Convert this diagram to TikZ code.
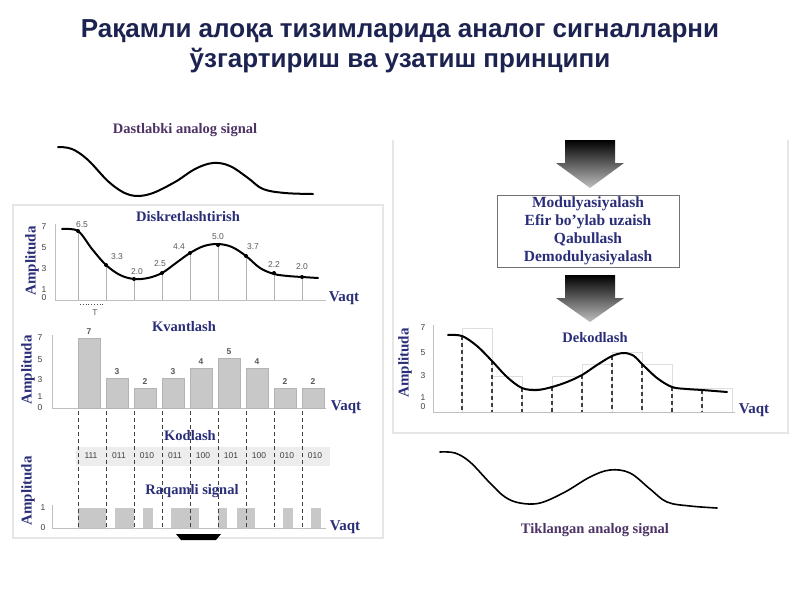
\documentclass[tikz,border=0pt]{standalone}
\usepackage{fontspec}
\setmainfont{Liberation Serif}
\newfontfamily\titlefont{Liberation Sans}
\newfontfamily\tickfont{Liberation Sans}
\definecolor{titlenavy}{HTML}{1C2350}
\definecolor{lblue}{HTML}{2A2E78}
\definecolor{purp}{HTML}{4E3466}
\definecolor{bargray}{HTML}{C8C8C8}
\definecolor{panelline}{HTML}{E6E6E6}
\tikzset{
  titletext/.style={font=\titlefont\bfseries\fontsize{26}{30}\selectfont, text=titlenavy, inner sep=0},
  lbl/.style={font=\bfseries\fontsize{14.5}{16}\selectfont, text=lblue, inner sep=0},
  plbl/.style={font=\bfseries\fontsize{14.5}{16}\selectfont, text=purp, inner sep=0},
  boxtext/.style={font=\bfseries\fontsize{15.5}{18}\selectfont, text=lblue, inner sep=0, align=center},
  ampl/.style={font=\bfseries\fontsize{15}{16}\selectfont, text=lblue, inner sep=0, rotate=90},
  vaqt/.style={font=\bfseries\fontsize{15}{16}\selectfont, text=lblue, inner sep=0},
  tick/.style={font=\tickfont\fontsize{8.5}{9}\selectfont, text=black!75, inner sep=0},
  val/.style={font=\tickfont\fontsize{8.5}{9}\selectfont, text=black!65, inner sep=0},
  axisline/.style={draw=black!25, line width=0.8pt},
  signal/.style={draw=black, line width=2pt, line cap=round},
  thinsig/.style={draw=black, line width=1.6pt, line cap=round},
  panel/.style={draw=panelline, line width=1.5pt},
  cut/.style={draw=black!75, line width=1pt, dash pattern=on 4pt off 3pt},
  bar/.style={fill=bargray, draw=bargray!90!black, line width=0.3pt},
  faintbar/.style={draw=black!13, line width=0.8pt},
  sample/.style={circle, fill=black, inner sep=0, minimum size=4pt},
  downarrow/.style={top color=black, bottom color=black!25, draw=none},
}
\begin{document}
\begin{tikzpicture}[x=1pt,y=-1pt]
\useasboundingbox (0,0) rectangle (800,600);
\fill[white] (0,0) rectangle (800,600);

% ---- title
\node[titletext, anchor=base] (t1) at (400,37) {Рақамли алоқа тизимларида аналог сигналларни};
\node[titletext, anchor=base] (t2) at (400,67) {ўзгартириш ва узатиш принципи};

% ---- panels
\draw[panel] (13,205) rectangle (383,538);
\draw[panel] (393,140) -- (393,433) -- (788,433) -- (788,140);

% ---- original analog signal
\node[plbl] (orig) at (185,130) {Dastlabki analog signal};
\draw[signal] plot[smooth, tension=0.6] coordinates {(58,147) (72,149) (88,160) (110,183) (130,195) (150,194) (175,182) (195,169) (213,163) (230,166) (248,178) (263,189) (285,193) (313,194)};

% ---- Diskretlashtirish
\node[lbl] (disk) at (188,217) {Diskretlashtirish};
\node[ampl] (a1) at (32,261) {Amplituda};
\node[tick] (d7) at (44,227) {7};
\node[tick] (d5) at (44,248) {5};
\node[tick] (d3) at (44,269) {3};
\node[tick] (d1) at (44,290) {1};
\node[tick] (d0) at (44,298) {0};
\draw[axisline] (55,224) -- (55,300) -- (326,300);
\node[vaqt] (v1) at (344,298) {Vaqt};
\foreach \x/\y/\n in {78/231/s1,106/265/s2,134/279/s3,162/273/s4,190/253/s5,218/245/s6,246/256/s7,274/273/s8,302/277/s9}{
  \draw[black!30, line width=0.6pt] (\x,\y) -- (\x,300);
}
\draw[signal] plot[smooth, tension=0.55] coordinates {(62,229) (78,231) (92,249) (106,265) (120,275) (134,279) (148,278) (162,273) (176,263) (190,253) (204,246) (218,244) (232,247) (246,256) (260,268) (274,274) (288,276) (302,277) (318,278)};
\foreach \x/\y/\n in {78/231/s1,106/265/s2,134/279/s3,162/273/s4,190/253/s5,218/245/s6,246/256/s7,274/273/s8,302/277/s9}{
  \node[sample] (\n) at (\x,\y) {};
}
\node[val] (l1) at (82,225) {6.5};
\node[val] (l2) at (117,257) {3.3};
\node[val] (l3) at (137,272) {2.0};
\node[val] (l4) at (160,264) {2.5};
\node[val] (l5) at (179,247) {4.4};
\node[val] (l6) at (218,237) {5.0};
\node[val] (l7) at (253,247) {3.7};
\node[val] (l8) at (274,265) {2.2};
\node[val] (l9) at (302,267) {2.0};
\coordinate (ta) at (80,304);
\coordinate (tb) at (104,304);
\draw[black!70, line width=0.8pt, dotted] (ta) -- (tb);
\node[val] (tlbl) at (95,313) {T};

% ---- Kvantlash
\node[lbl] (kv) at (184,327) {Kvantlash};
\node[ampl] (a2) at (28,370) {Amplituda};
\node[tick] (k7) at (40,338) {7};
\node[tick] (k5) at (40,360) {5};
\node[tick] (k3) at (40,380) {3};
\node[tick] (k1) at (40,397) {1};
\node[tick] (k0) at (40,408) {0};
\draw[axisline] (52,335) -- (52,408) -- (326,408);
\node[vaqt] (v2) at (346,407) {Vaqt};
\foreach \x/\v/\n in {78/7/q1,106/3/q2,134/2/q3,162/3/q4,190/4/q5,218/5/q6,246/4/q7,274/2/q8,302/2/q9}{
  \draw[bar] (\x,408) rectangle ({\x+22},{408-10*\v});
  \node[val, font=\tickfont\bfseries\fontsize{8.5}{9}\selectfont] (\n) at ({\x+11},{408-10*\v-6}) {\v};
}

% ---- Kodlash and Raqamli signal
\fill[black!7] (76,447) rectangle (330,466);
\foreach \a/\b in {78/106.3, 115.3/134, 143.3/152.7, 171.3/199.3, 218/227.3, 236.7/255.3, 283.3/292.7, 311.3/320.7}{
  \fill[bargray] (\a,508) rectangle (\b,528);
}
\draw[axisline] (52,505) -- (52,528) -- (326,528);
\foreach \x in {78,106,134,162,190,218,246,274,302}{
  \draw[cut] (\x,411) -- (\x,530);
}
\node[lbl] (kod) at (190,436) {Kodlash};
\foreach \x/\c/\n in {78/111/c1,106/011/c2,134/010/c3,162/011/c4,190/100/c5,218/101/c6,246/100/c7,274/010/c8,302/010/c9}{
  \node[val, text=black!75, fill=black!7, inner sep=1pt] (\n) at ({\x+13},456) {\c};
}
\node[lbl] (raq) at (192,491) {Raqamli signal};
\node[ampl] (a3) at (28,491) {Amplituda};
\node[tick] (r1) at (43,508) {1};
\node[tick] (r0) at (43,528) {0};
\node[vaqt] (v3) at (345,527) {Vaqt};
\fill[black] (176,534) -- (221,534) -- (216,540) -- (181,540) -- cycle;

% ---- right: arrows and process box
\shade[downarrow] (565,140) -- (615,140) -- (615,163) -- (624,163) -- (590,188) -- (556,163) -- (565,163) -- cycle;
\node[boxtext, draw=black!55, line width=0.8pt, fill=white, minimum width=182pt, minimum height=72pt] (proc) at (588,231) {Modulyasiyalash\\Efir bo'ylab uzaish\\Qabullash\\Demodulyasiyalash};
\shade[downarrow] (565,275) -- (615,275) -- (615,298) -- (624,298) -- (590,322) -- (556,298) -- (565,298) -- cycle;

% ---- Dekodlash
\node[lbl] (dek) at (595,338) {Dekodlash};
\node[ampl] (a4) at (405,363) {Amplituda};
\node[tick] (e7) at (423,328) {7};
\node[tick] (e5) at (423,353) {5};
\node[tick] (e3) at (423,376) {3};
\node[tick] (e1) at (423,398) {1};
\node[tick] (e0) at (423,407) {0};
\foreach \x/\v in {462/7,492/3,522/2,552/3,582/4,612/5,642/4,672/2,702/2}{
  \draw[faintbar] (\x,412) rectangle ({\x+30},{412-12*\v});
}
\draw[axisline] (433,325) -- (433,412) -- (735,412);
\node[vaqt] (v4) at (754,410) {Vaqt};
\foreach \x/\y in {462/336,492/361,522/388,552/387,582/375,612/356,642/364,672/387,702/390}{
  \draw[cut, line width=1.1pt] (\x,\y) -- (\x,412);
}
\draw[signal] plot[smooth, tension=0.55] coordinates {(448,335) (462,336) (477,346) (492,361) (507,377) (522,388) (537,390) (552,387) (567,382) (582,375) (597,365) (612,356) (624,353) (634,356) (642,364) (657,378) (672,387) (687,389) (702,390) (727,392)};

% ---- restored analog signal
\draw[thinsig] plot[smooth, tension=0.6] coordinates {(440,452) (455,453) (470,462) (490,483) (505,497) (520,503) (540,503) (565,492) (590,477) (610,470) (630,473) (650,489) (667,502) (690,506) (717,508)};
\node[plbl] (rest) at (595,530) {Tiklangan analog signal};
\end{tikzpicture}
\end{document}
